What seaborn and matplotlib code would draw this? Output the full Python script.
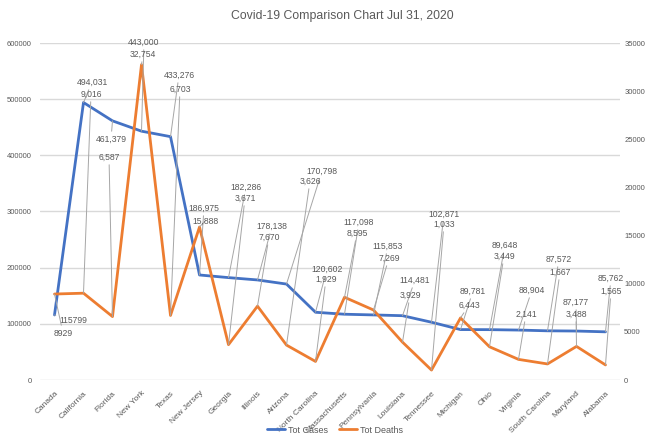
import numpy as np
import pandas as pd
import matplotlib.pyplot as plt
import seaborn as sns

# data
states = ["Canada", "California", "Florida", "New York", "Texas", "New Jersey",
          "Georgia", "Illinois", "Arizona", "North Carolina", "Massachusetts",
          "Pennsylvania", "Louisiana", "Tennessee", "Michigan", "Ohio", "Virginia",
          "South Carolina", "Maryland", "Alabama"]
tot_cases = [115799, 494031, 461379, 443000, 433276, 186975, 182286, 178138, 170798,
             120602, 117098, 115853, 114481, 102871, 89781, 89648, 88904, 87572,
             87177, 85762]
tot_deaths = [8929, 9016, 6587, 32754, 6703, 15888, 3671, 7670, 3626, 1929, 8595,
              7269, 3929, 1033, 6443, 3449, 2141, 1667, 3488, 1565]
case_text = ["115799"] + [f"{v:,}" for v in tot_cases[1:]]
death_text = ["8929"] + [f"{v:,}" for v in tot_deaths[1:]]

# label placement (image pixels, from top-left)
case_lbl_pos = [(73, 320), (92, 82), (111, 139), (144, 42), (179, 75), (204, 208),
                (246, 187), (272, 226), (322, 171), (327, 269), (359, 222), (388, 246),
                (415, 280), (444, 214), (473, 291), (505, 245), (532, 290), (559, 259),
                (576, 302), (611, 278)]
death_lbl_pos = [(63, 333), (91, 94), (109, 157), (143, 54), (180, 89), (205, 221),
                 (245, 198), (269, 237), (310, 181), (326, 279), (357, 233), (389, 258),
                 (410, 295), (444, 224), (469, 305), (504, 256), (526, 314), (560, 272),
                 (576, 314), (611, 291)]

df = pd.DataFrame({"pos": np.arange(len(states)), "state": states,
                   "cases": tot_cases, "deaths": tot_deaths})

sns.set_style("white")
plt.rcParams["font.family"] = ["Liberation Sans", "DejaVu Sans"]

W, H = 649, 436
fig = plt.figure(figsize=(W / 100, H / 100), dpi=100)
ax = fig.add_axes([40 / W, 1 - 380 / H, 580 / W, 337 / H])
ax2 = ax.twinx()

blue = "#4472C4"
orange = "#ED7D31"
grey = "#595959"

sns.lineplot(data=df, x="pos", y="cases", ax=ax, color=blue, linewidth=2, label="Tot Cases")
sns.lineplot(data=df, x="pos", y="deaths", ax=ax2, color=orange, linewidth=2, label="Tot Deaths")

ax.set_xlim(-0.5, len(states) - 0.5)
ax.set_ylim(0, 600000)
ax2.set_ylim(0, 35000)
ax.set_yticks(np.arange(0, 600001, 100000))
ax2.set_yticks(np.arange(0, 35001, 5000))
ax.yaxis.grid(True, color="#d9d9d9", linewidth=1)
ax.set_axisbelow(True)
for a in (ax, ax2):
    for s in a.spines.values():
        s.set_visible(False)
    a.set_xlabel("")
    a.set_ylabel("")
    a.tick_params(length=0, labelsize=5.5, labelcolor=grey, pad=6)
ax2.tick_params(axis="y", pad=3)

ax.set_xticks(df["pos"])
ax.set_xticklabels(states, rotation=45, ha="right", rotation_mode="anchor")
ax.tick_params(axis="x", pad=7, labelsize=6)

line_kw = dict(arrowstyle="-", color="#a6a6a6", lw=0.7, shrinkA=0, shrinkB=0)
for i in range(len(states)):
    cx, cy = case_lbl_pos[i]
    dx, dy = death_lbl_pos[i]
    ax2.annotate(case_text[i], xy=(i, tot_cases[i] * 35000 / 600000),
                 xytext=(cx, H - cy), textcoords="figure pixels",
                 ha="center", va="center", fontsize=6.2, color=grey,
                 arrowprops=line_kw, annotation_clip=False)
    ax2.annotate(death_text[i], xy=(i, tot_deaths[i]),
                 xytext=(dx, H - dy), textcoords="figure pixels",
                 ha="center", va="center", fontsize=6.2, color=grey,
                 arrowprops=line_kw, annotation_clip=False)

handles = ax.get_legend().legend_handles + ax2.get_legend().legend_handles
ax.get_legend().remove()
ax2.get_legend().remove()
fig.legend(handles, ["Tot Cases", "Tot Deaths"], loc="center", ncol=2,
           bbox_to_anchor=(335 / W, 1 - 430 / H), frameon=False, fontsize=6.5,
           handlelength=2, handletextpad=0.3, columnspacing=1.2, labelcolor=grey)

fig.text(342 / W, 1 - 16 / H, "Covid-19 Comparison Chart Jul 31, 2020",
         ha="center", va="center", fontsize=8.8, color=grey)

fig.savefig("out.png", dpi=100)
